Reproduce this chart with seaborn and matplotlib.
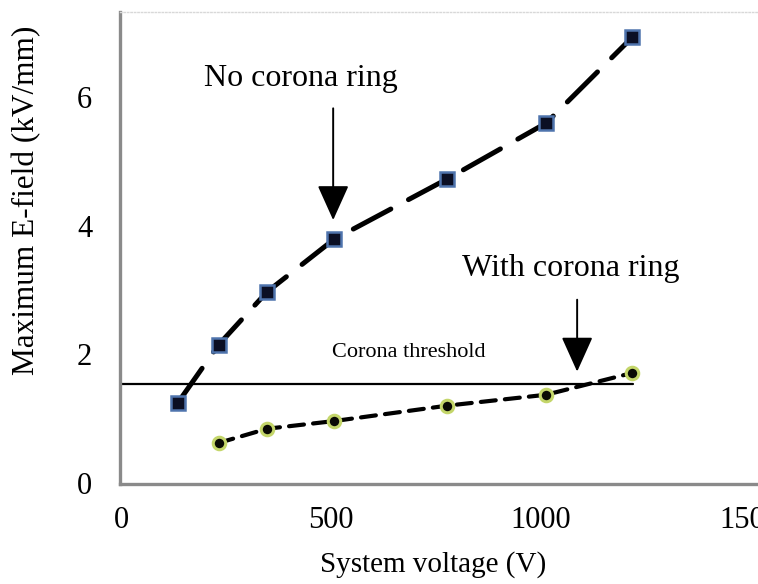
import matplotlib
matplotlib.use("Agg")
import matplotlib.pyplot as plt
import seaborn as sns
import pandas as pd

# ---- data ----
voltage_no_ring = [135, 233, 348, 508, 778, 1014, 1220]
efield_no_ring = [1.24, 2.15, 2.97, 3.79, 4.73, 5.60, 6.94]
voltage_ring = [233, 348, 508, 778, 1014, 1220]
efield_ring = [0.62, 0.84, 0.96, 1.20, 1.37, 1.71]
threshold_value = 1.53
threshold_end = 1222
x_ticks = [0, 500, 1000, 1500]
y_ticks = [0, 2, 4, 6]

df_no = pd.DataFrame({"v": voltage_no_ring, "e": efield_no_ring})
df_ring = pd.DataFrame({"v": voltage_ring, "e": efield_ring})

sns.set_theme(style="white")
plt.rcParams["font.family"] = ["Liberation Serif", "DejaVu Serif"]
plt.rcParams["text.color"] = "black"
plt.rcParams["axes.labelcolor"] = "black"

fig = plt.figure(figsize=(7.58, 5.84), dpi=100)
ax = fig.add_axes([120 / 758, 100 / 584, 655 / 758, 472 / 584])

# threshold line
ax.plot([-2.5, threshold_end], [threshold_value, threshold_value],
        color="black", lw=1.6, zorder=2)

sns.lineplot(data=df_no, x="v", y="e", ax=ax, color="black",
             linestyle=(0, (8.5, 4.0)), lw=3.6, dash_capstyle="round",
             marker="s", markersize=10.5, markerfacecolor="#0b0f24",
             markeredgecolor="#4f74ad", markeredgewidth=1.8, zorder=3)
sns.lineplot(data=df_ring, x="v", y="e", ax=ax, color="black",
             linestyle=(0, (3.6, 2.2)), lw=3.0, dash_capstyle="round",
             marker="o", markersize=9, markerfacecolor="#0a0a05",
             markeredgecolor="#c4d66a", markeredgewidth=2.2, zorder=3)

ax.set_xlim(-2.5, 1560)
ax.set_ylim(-0.02, 7.33)
ax.set_xticks(x_ticks)
ax.set_xticklabels([str(t) for t in x_ticks])
ax.set_yticks(y_ticks)
ax.set_yticklabels([str(t) for t in y_ticks])
ax.tick_params(axis="both", length=0, labelsize=22, colors="black")
ax.tick_params(axis="x", pad=16)
ax.tick_params(axis="y", pad=20)

ax.set_xlabel("System voltage (V)", fontsize=21, color="black")
ax.set_ylabel("Maximum E-field (kV/mm)", fontsize=22.5, color="black")
ax.xaxis.set_label_coords(0.478, -0.142)
ax.yaxis.set_label_coords(-0.121, 0.60)

for side in ["left", "bottom"]:
    ax.spines[side].set_color("#8a8a8a")
    ax.spines[side].set_linewidth(2.4)
ax.spines["top"].set_color("#d8d8d8")
ax.spines["top"].set_linewidth(1.0)
ax.spines["top"].set_linestyle((0, (1, 1.5)))
ax.spines["right"].set_visible(False)

# annotations
ax.text(430, 6.30, "No corona ring", fontsize=23, ha="center", va="center")
ax.text(1072, 3.34, "With corona ring", fontsize=23, ha="center", va="center")
ax.text(687, 2.02, "Corona threshold", fontsize=16, ha="center", va="center")

ax.annotate("", xy=(506, 4.09), xytext=(506, 5.83),
            arrowprops=dict(arrowstyle="-|>,head_length=1.0,head_width=0.45",
                            color="black", lw=1.4, mutation_scale=22,
                            shrinkA=0, shrinkB=0))
ax.annotate("", xy=(1088, 1.73), xytext=(1088, 2.85),
            arrowprops=dict(arrowstyle="-|>,head_length=1.0,head_width=0.45",
                            color="black", lw=1.4, mutation_scale=22,
                            shrinkA=0, shrinkB=0))

fig.savefig("out.png", dpi=100)
